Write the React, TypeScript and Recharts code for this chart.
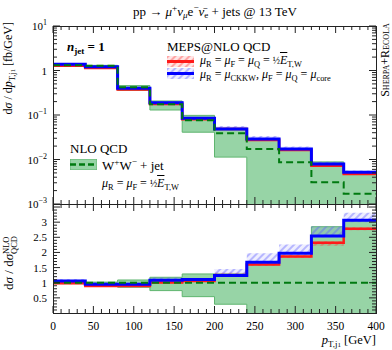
import { Area, ComposedChart, Line, XAxis, YAxis } from "recharts";

// bin edges of the leading-jet pT histogram [GeV]
const binEdges = [0, 40, 80, 120, 160, 200, 240, 280, 320, 360, 400];

// NLO QCD W+W- + jet, central value [fb/GeV]
const nloCentral = [1.31, 1.28, 0.42, 0.175, 0.076, 0.039, 0.0172, 0.0087, 0.0031, 0.0017];
// NLO scale band, relative to central NLO
const nloUpRatio = [1.03, 1.02, 1.09, 1.18, 1.29, 1.29, 1.6, 1.88, 2.85, 3.05];
const nloDownRatio = [0.97, 0.98, 0.85, 0.74, 0.54, 0.29, -0.3, -0.3, -0.3, -0.3];

// MEPS@NLO, mu = 1/2 E_T,W (red), ratio to NLO
const redRatio = [0.98, 0.89, 0.89, 1.01, 1.06, 1.25, 1.6, 1.87, 2.32, 2.78];
const redUpRatio = [1.02, 0.92, 0.92, 1.05, 1.1, 1.33, 1.66, 1.93, 2.37, 2.83];
const redDownRatio = [0.95, 0.86, 0.86, 0.98, 1.03, 1.2, 1.55, 1.82, 2.22, 2.73];

// MEPS@NLO, mu_CKKW / mu_core (blue), ratio to NLO
const blueRatio = [1.056, 0.95, 0.95, 1.08, 1.11, 1.24, 1.68, 1.97, 2.54, 3.06];
const blueUpRatio = [1.12, 1.0, 1.0, 1.17, 1.15, 1.45, 1.97, 2.26, 2.86, 3.31];
const blueDownRatio = [1.02, 0.93, 0.93, 1.05, 1.08, 1.2, 1.64, 1.93, 2.5, 3.0];

const FONT = "'Liberation Serif', 'DejaVu Serif', serif";
const PL = 53;
const PR = 376;
const TOP_T = 26;
const TOP_B = 204;
const RAT_B = 313;
const RED = "#ff1a1a";
const BLUE = "#0000ff";
const GREEN_DASH = "#007a10";
const GREEN_FILL = "#97d4a6";
const GREEN_EDGE = "#5fb56f";

const clampLog = (v: number) => Math.max(v, 1e-6);

// step rows: one row per edge, last edge repeats the last bin
const topRows = binEdges.map((x, i) => {
  const j = Math.min(i, nloCentral.length - 1);
  const c = nloCentral[j];
  return {
    x,
    nlo: c,
    nloBand: [clampLog(c * nloDownRatio[j]), c * nloUpRatio[j]],
    red: c * redRatio[j],
    redBand: [c * redDownRatio[j], c * redUpRatio[j]],
    blue: c * blueRatio[j],
    blueBand: [c * blueDownRatio[j], c * blueUpRatio[j]],
  };
});

const ratioRows = binEdges.map((x, i) => {
  const j = Math.min(i, nloCentral.length - 1);
  return {
    x,
    nlo: 1,
    nloBand: [nloDownRatio[j], nloUpRatio[j]],
    red: redRatio[j],
    redBand: [redDownRatio[j], redUpRatio[j]],
    blue: blueRatio[j],
    blueBand: [blueDownRatio[j], blueUpRatio[j]],
  };
});

const xTicks: number[] = [];
for (let v = 0; v <= 400; v += 10) xTicks.push(v);

const logTicks: number[] = [];
for (let d = -3; d <= 0; d++) for (let m = 1; m <= 9; m++) logTicks.push(+(m * 10 ** d).toPrecision(3));
logTicks.push(10);

const ratioTicks: number[] = [];
for (let k = 1; k <= 35; k++) ratioTicks.push(+(k / 10).toFixed(1));

function XTick(props: any) {
  const { x, payload, top, bottom, labels } = props;
  const v = payload.value;
  const major = v % 50 === 0;
  const len = major ? 7 : 4;
  return (
    <g>
      <line x1={x} x2={x} y1={bottom} y2={bottom - len} stroke="#222" />
      <line x1={x} x2={x} y1={top} y2={top + len} stroke="#222" />
      {labels && major && (
        <text x={x} y={bottom + 17} textAnchor="middle" fontSize={11.5} fontFamily={FONT} fill="#000">
          {String(v)}
        </text>
      )}
    </g>
  );
}

function LogTick(props: any) {
  const { y, payload } = props;
  const v = payload.value;
  const exp = Math.round(Math.log10(v));
  const major = Math.abs(v - 10 ** exp) < 1e-6 * v;
  const len = major ? 7 : 4;
  return (
    <g>
      <line x1={PL} x2={PL + len} y1={y} y2={y} stroke="#222" />
      <line x1={PR} x2={PR - len} y1={y} y2={y} stroke="#222" />
      {major && (
        <text x={PL - 6} y={y + 4} textAnchor="end" fontSize={11} fontFamily={FONT} fill="#000">
          {exp === 0 ? (
            "1"
          ) : (
            <>
              <tspan>10</tspan>
              <tspan dy={-5} fontSize={8}>
                {exp < 0 ? "\u2212" + -exp : exp}
              </tspan>
            </>
          )}
        </text>
      )}
    </g>
  );
}

function RatioTick(props: any) {
  const { y, payload } = props;
  const v = payload.value;
  const major = Math.abs(v * 2 - Math.round(v * 2)) < 1e-6;
  const len = major ? 7 : 4;
  return (
    <g>
      <line x1={PL} x2={PL + len} y1={y} y2={y} stroke="#222" />
      <line x1={PR} x2={PR - len} y1={y} y2={y} stroke="#222" />
      {major && v <= 3 && (
        <text x={PL - 6} y={y + 4} textAnchor="end" fontSize={11} fontFamily={FONT} fill="#000">
          {v}
        </text>
      )}
    </g>
  );
}

function Series() {
  return [
    <Area key="nf" dataKey="nloBand" type="stepAfter" fill={GREEN_FILL} fillOpacity={1} stroke={GREEN_EDGE} strokeWidth={1} isAnimationActive={false} dot={false} activeDot={false} />,
    <Area key="rf" dataKey="redBand" type="stepAfter" fill="url(#hatchRed)" fillOpacity={1} stroke="none" isAnimationActive={false} dot={false} activeDot={false} />,
    <Area key="bf" dataKey="blueBand" type="stepAfter" fill="url(#hatchBlue)" fillOpacity={1} stroke="none" isAnimationActive={false} dot={false} activeDot={false} />,
    <Line key="r" dataKey="red" type="stepAfter" stroke={RED} strokeWidth={2.5} dot={false} activeDot={false} isAnimationActive={false} />,
    <Line key="b" dataKey="blue" type="stepAfter" stroke={BLUE} strokeWidth={3} dot={false} activeDot={false} isAnimationActive={false} />,
    <Line key="n" dataKey="nlo" type="stepAfter" stroke={GREEN_DASH} strokeWidth={2} strokeDasharray="7 4" dot={false} activeDot={false} isAnimationActive={false} />,
  ];
}

const abs = (left: number, top: number, extra: any = {}) => ({
  position: "absolute" as const,
  left,
  top,
  whiteSpace: "nowrap" as const,
  lineHeight: 1,
  fontFamily: FONT,
  color: "#000",
  ...extra,
});

const sub = { fontSize: "70%", verticalAlign: "-0.3em" };
const sup = { fontSize: "70%", verticalAlign: "0.5em" };

function Swatch({ left, top, fill, line, dashed }: any) {
  return (
    <svg style={{ position: "absolute", left, top }} width={27} height={11}>
      <rect x={0} y={0} width={27} height={11} fill={fill} stroke={dashed ? GREEN_EDGE : "none"} />
      <line x1={0} x2={27} y1={5.5} y2={5.5} stroke={line} strokeWidth={dashed ? 2.5 : 3} strokeDasharray={dashed ? "6 3" : undefined} />
    </svg>
  );
}

const EtW = (
  <>
    <span style={{ fontSize: "80%" }}>½</span>
    <i style={{ textDecoration: "overline" }}>E</i>
    <span style={sub}>T,W</span>
  </>
);

export default function App() {
  return (
    <div style={{ position: "absolute", left: 0, top: 0, width: 392, height: 350, background: "#fff", overflow: "hidden" }}>
      <svg width={0} height={0} style={{ position: "absolute" }}>
        <defs>
          <pattern id="hatchRed" width="5" height="5" patternUnits="userSpaceOnUse" patternTransform="rotate(45)">
            <rect width="5" height="5" fill="rgba(255,0,0,0.10)" />
            <line x1="1" y1="0" x2="1" y2="5" stroke="rgba(255,60,60,0.55)" strokeWidth="1.4" />
          </pattern>
          <pattern id="hatchBlue" width="5" height="5" patternUnits="userSpaceOnUse" patternTransform="rotate(45)">
            <rect width="5" height="5" fill="rgba(90,90,255,0.10)" />
            <line x1="1" y1="0" x2="1" y2="5" stroke="rgba(90,90,255,0.55)" strokeWidth="1.4" />
          </pattern>
        </defs>
      </svg>

      <div style={{ position: "absolute", left: 0, top: 0 }}>
        <ComposedChart width={392} height={TOP_B + 12} data={topRows} margin={{ top: TOP_T, right: 392 - PR, bottom: 0, left: 0 }}>
          <XAxis dataKey="x" type="number" domain={[0, 400]} ticks={xTicks} interval={0} height={12} axisLine={false} tickLine={false} tick={(p: any) => <XTick {...p} top={TOP_T} bottom={TOP_B} labels={false} />} />
          <YAxis scale="log" domain={[0.001, 10]} allowDataOverflow ticks={logTicks} interval={0} width={PL} axisLine={false} tickLine={false} tick={(p: any) => <LogTick {...p} />} />
          {Series()}
        </ComposedChart>
      </div>

      <div style={{ position: "absolute", left: 0, top: 0 }}>
        <ComposedChart width={392} height={350} data={ratioRows} margin={{ top: TOP_B, right: 392 - PR, bottom: 0, left: 0 }}>
          <XAxis dataKey="x" type="number" domain={[0, 400]} ticks={xTicks} interval={0} height={350 - RAT_B} axisLine={false} tickLine={false} tick={(p: any) => <XTick {...p} top={TOP_B} bottom={RAT_B} labels />} />
          <YAxis domain={[0, 3.6]} allowDataOverflow ticks={ratioTicks} interval={0} width={PL} axisLine={false} tickLine={false} tick={(p: any) => <RatioTick {...p} />} />
          {Series()}
        </ComposedChart>
      </div>

      {/* frames */}
      <div style={{ position: "absolute", left: PL, top: TOP_T, width: PR - PL + 1, height: TOP_B - TOP_T + 1, border: "1px solid #222", boxSizing: "border-box" }} />
      <div style={{ position: "absolute", left: PL, top: TOP_B, width: PR - PL + 1, height: RAT_B - TOP_B + 1, border: "1px solid #222", boxSizing: "border-box" }} />

      {/* title */}
      <div style={abs(215, 4, { fontSize: 13, transform: "translateX(-50%)" })}>
        pp → <i>μ</i>
        <span style={sup}>+</span>
        <i>ν</i>
        <span style={sub}>
          <i>μ</i>
        </span>
        e<span style={sup}>−</span>
        <i>ν̄</i>
        <span style={sub}>e</span> + jets @ 13 TeV
      </div>

      {/* axis titles */}
      <div style={abs(2, 222, { fontSize: 12, width: 200, textAlign: "right", transform: "rotate(-90deg)", transformOrigin: "left top" })}>
        d<i>σ</i> / d<i>p</i>
        <span style={sub}>
          T,j<span style={{ fontSize: "80%" }}>1</span>
        </span>{" "}
        [fb/GeV]
      </div>
      <div style={abs(2, 313, { fontSize: 13, width: 100, textAlign: "center", transform: "rotate(-90deg)", transformOrigin: "left top" })}>
        d<i>σ</i> / d<i>σ</i>
        <span style={{ display: "inline-block", verticalAlign: "middle", fontSize: "65%", lineHeight: 1, textAlign: "left" }}>
          NLO
          <br />
          QCD
        </span>
      </div>
      <div style={abs(376, 334, { fontSize: 12.5, transform: "translateX(-100%)" })}>
        <i>p</i>
        <span style={sub}>
          T,j<span style={{ fontSize: "80%" }}>1</span>
        </span>{" "}
        [GeV]
      </div>
      <div style={abs(379, 118, { fontSize: 12, fontVariant: "small-caps", transform: "rotate(-90deg)", transformOrigin: "left top", width: 116, textAlign: "center" })}>
        Sherpa+Recola
      </div>

      {/* legend */}
      <div style={abs(67, 40, { fontSize: 13, fontWeight: "bold" })}>
        <i>n</i>
        <span style={sub}>jet</span> = 1
      </div>
      <div style={abs(167, 40, { fontSize: 13 })}>MEPS@NLO QCD</div>
      <Swatch left={167} top={56} fill="url(#hatchRed)" line={RED} />
      <div style={abs(200, 54, { fontSize: 12 })}>
        <i>μ</i>
        <span style={sub}>R</span> = <i>μ</i>
        <span style={sub}>F</span> = <i>μ</i>
        <span style={sub}>Q</span> = {EtW}
      </div>
      <Swatch left={167} top={68} fill="url(#hatchBlue)" line={BLUE} />
      <div style={abs(200, 68, { fontSize: 12 })}>
        <i>μ</i>
        <span style={sub}>R</span> = <i>μ</i>
        <span style={sub}>CKKW</span>, <i>μ</i>
        <span style={sub}>F</span> = <i>μ</i>
        <span style={sub}>Q</span> = <i>μ</i>
        <span style={sub}>core</span>
      </div>

      <div style={abs(70, 142, { fontSize: 13 })}>NLO QCD</div>
      <Swatch left={70} top={159} fill={GREEN_FILL} line={GREEN_DASH} dashed />
      <div style={abs(102, 158, { fontSize: 13 })}>
        W<span style={sup}>+</span>W<span style={sup}>−</span> + jet
      </div>
      <div style={abs(102, 177, { fontSize: 12 })}>
        <i>μ</i>
        <span style={sub}>R</span> = <i>μ</i>
        <span style={sub}>F</span> = {EtW}
      </div>
    </div>
  );
}
